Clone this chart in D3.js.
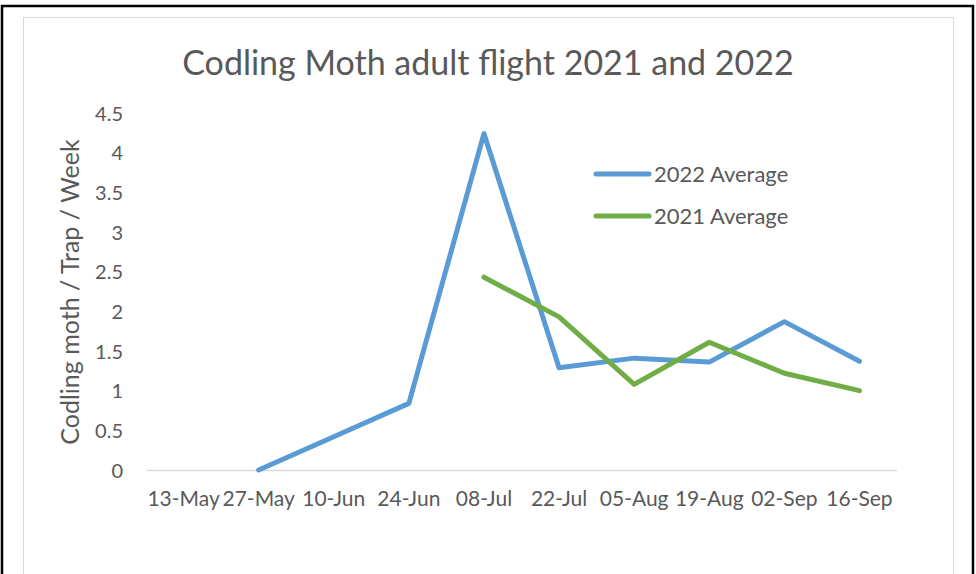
<!DOCTYPE html>
<html>
<head>
<meta charset="utf-8">
<script src="https://cdn.jsdelivr.net/npm/d3@7"></script>
<style>
  html, body { margin: 0; padding: 0; background: #fff; }
  svg { display: block; }
  text { font-family: Lato, "Open Sans", sans-serif; fill: #595959; }
</style>
</head>
<body>
<svg id="chart" width="976" height="574"></svg>
<script>
// Fortnightly trap dates
const dates = ["13-May", "27-May", "10-Jun", "24-Jun", "08-Jul", "22-Jul", "05-Aug", "19-Aug", "02-Sep", "16-Sep"];
// Average codling moth per trap per week (null = no reading)
const avg2022 = [null, 0, 0.42, 0.84, 4.24, 1.29, 1.41, 1.36, 1.87, 1.37];
const avg2021 = [null, null, null, null, 2.43, 1.93, 1.08, 1.61, 1.22, 1.0];
const yTicks = [0, 0.5, 1, 1.5, 2, 2.5, 3, 3.5, 4, 4.5];
const seriesNames = ["2022 Average", "2021 Average"];
const seriesColors = ["#5B9BD5", "#70AD47"];

const svg = d3.select("#chart");

// Frames
svg.append("rect").attr("x", 2).attr("y", 6).attr("width", 971).attr("height", 620)
  .attr("fill", "none").attr("stroke", "#000").attr("stroke-width", 2.5);
svg.append("rect").attr("x", 23.5).attr("y", 17.5).attr("width", 930).attr("height", 620)
  .attr("fill", "#fff").attr("stroke", "#d9d9d9").attr("stroke-width", 1);

const plot = { left: 146, right: 897, top: 113, bottom: 470 };

const x = d3.scaleBand().domain(dates).range([plot.left, plot.right]).padding(0);
const y = d3.scaleLinear().domain([0, 4.5]).range([plot.bottom, plot.top]);

// Title
svg.append("text")
  .attr("x", 488).attr("y", 75)
  .attr("text-anchor", "middle")
  .style("font-size", "34px")
  .text("Codling Moth adult flight 2021 and 2022");

// Y axis (labels only)
const yAxis = d3.axisLeft(y).tickValues(yTicks).tickSize(0).tickPadding(0)
  .tickFormat(d => String(d));
const gy = svg.append("g").attr("transform", `translate(${plot.left - 23},0)`).call(yAxis);
gy.select(".domain").remove();
gy.selectAll("text").style("font-size", "20px").attr("fill", "#595959")
  .style("font-family", "Lato, sans-serif").attr("dy", "0.35em");

// X axis
const xAxis = d3.axisBottom(x).tickSize(0).tickPadding(0);
const gx = svg.append("g").attr("transform", `translate(0,${plot.bottom})`).call(xAxis);
gx.select(".domain").attr("stroke", "#d9d9d9").attr("stroke-width", 1.5);
gx.selectAll("text").style("font-size", "21px").attr("fill", "#595959")
  .style("font-family", "Lato, sans-serif").attr("y", 21).attr("dy", "0.71em");

// Y axis title
svg.append("text")
  .attr("transform", `translate(79,${292}) rotate(-90)`)
  .attr("text-anchor", "middle")
  .style("font-size", "25px")
  .text("Codling moth / Trap / Week");

// Lines
const line = d3.line()
  .defined(d => d.v !== null)
  .x(d => x(d.date) + x.bandwidth() / 2)
  .y(d => y(d.v));

[avg2022, avg2021].forEach((vals, i) => {
  const pts = dates.map((date, j) => ({ date, v: vals[j] }));
  svg.append("path")
    .datum(pts)
    .attr("d", line)
    .attr("fill", "none")
    .attr("stroke", seriesColors[i])
    .attr("stroke-width", 5)
    .attr("stroke-linejoin", "round")
    .attr("stroke-linecap", "round");
});

// Legend
const legend = svg.append("g");
seriesNames.forEach((name, i) => {
  const ly = 174 + i * 42;
  legend.append("line")
    .attr("x1", 596).attr("x2", 649).attr("y1", ly).attr("y2", ly)
    .attr("stroke", seriesColors[i]).attr("stroke-width", 5).attr("stroke-linecap", "round");
  legend.append("text")
    .attr("x", 654).attr("y", ly).attr("dy", "0.35em")
    .style("font-size", "22px")
    .text(name);
});
</script>
</body>
</html>
